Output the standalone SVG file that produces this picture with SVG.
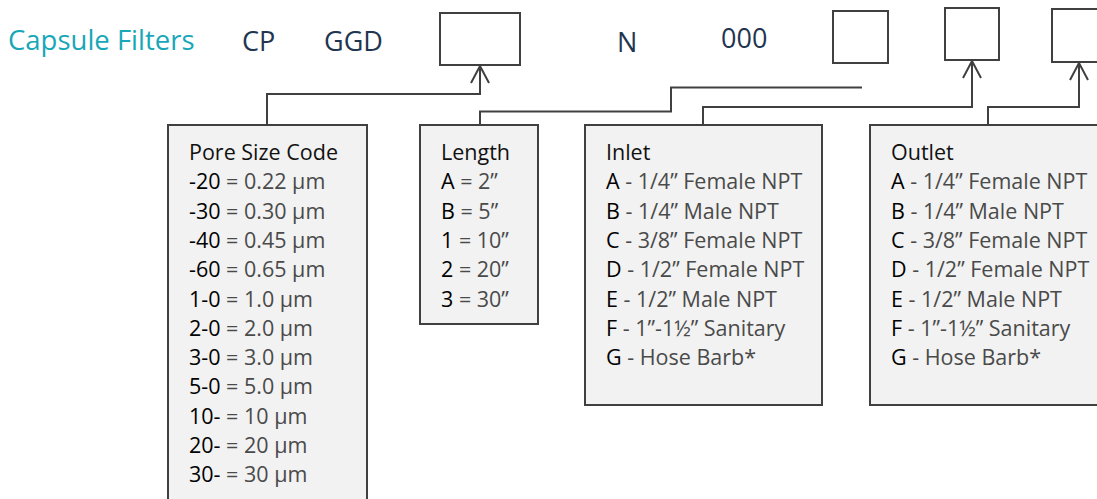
<svg xmlns="http://www.w3.org/2000/svg" width="1097" height="499" viewBox="0 0 1097 499">
<style>
.top{font-family:"Open Sans","Noto Sans",sans-serif;font-size:27px;fill:#1f3550}
.title{font-family:"Open Sans","Noto Sans",sans-serif;font-size:27.5px;fill:#17a7b8}
.slot{fill:#ffffff;stroke:#404040;stroke-width:2}
.box{fill:#f2f2f2;stroke:#404040;stroke-width:2}
.txt{font-family:"Open Sans","Noto Sans",sans-serif;font-size:21.5px;fill:#111111}
.k{fill:#000000;font-weight:500}
.v{fill:#4a4a4a}
.conn{fill:none;stroke:#404040;stroke-width:2}
</style>
<defs>
<marker id="arr" viewBox="-20 -10 22 20" markerWidth="22" markerHeight="20" refX="0" refY="0" orient="auto" markerUnits="userSpaceOnUse">
<path d="M-17,-9 L0,0 L-17,9" fill="none" stroke="#404040" stroke-width="2"/>
</marker>
</defs>
<g id="header">
<text class="title" x="8" y="50">Capsule Filters</text>
<text class="top" x="242" y="51">CP</text>
<text class="top" x="324" y="51">GGD</text>
<text class="top" x="617" y="52">N</text>
<text class="top" x="721" y="48">000</text>
</g>
<g id="slot-pore"><rect class="slot" x="440" y="13" width="80" height="52"/></g>
<g id="slot-length"><rect class="slot" x="833" y="11" width="55" height="52"/></g>
<g id="slot-inlet"><rect class="slot" x="945" y="8" width="54" height="52"/></g>
<g id="slot-outlet"><rect class="slot" x="1052" y="9" width="54" height="53"/></g>
<g id="connectors">
<path class="conn" d="M267,125 V94 H480 V66" marker-end="url(#arr)"/>
<path class="conn" d="M480,125 V111.5 H671 V87.5 H862"/>
<path class="conn" d="M703,124 V107 H972 V61" marker-end="url(#arr)"/>
<path class="conn" d="M988,125 V107 H1079 V63" marker-end="url(#arr)"/>
</g>
<g id="pore-size">
<rect class="box" x="168" y="125" width="199" height="390"/>
<text class="txt" x="189" y="160">Pore Size Code</text>
<text class="txt" x="189" y="189.3"><tspan class="k">-20</tspan><tspan class="v"> = 0.22 µm</tspan></text>
<text class="txt" x="189" y="218.6"><tspan class="k">-30</tspan><tspan class="v"> = 0.30 µm</tspan></text>
<text class="txt" x="189" y="247.9"><tspan class="k">-40</tspan><tspan class="v"> = 0.45 µm</tspan></text>
<text class="txt" x="189" y="277.2"><tspan class="k">-60</tspan><tspan class="v"> = 0.65 µm</tspan></text>
<text class="txt" x="189" y="306.5"><tspan class="k">1-0</tspan><tspan class="v"> = 1.0 µm</tspan></text>
<text class="txt" x="189" y="335.8"><tspan class="k">2-0</tspan><tspan class="v"> = 2.0 µm</tspan></text>
<text class="txt" x="189" y="365.1"><tspan class="k">3-0</tspan><tspan class="v"> = 3.0 µm</tspan></text>
<text class="txt" x="189" y="394.4"><tspan class="k">5-0</tspan><tspan class="v"> = 5.0 µm</tspan></text>
<text class="txt" x="189" y="423.7"><tspan class="k">10-</tspan><tspan class="v"> = 10 µm</tspan></text>
<text class="txt" x="189" y="453"><tspan class="k">20-</tspan><tspan class="v"> = 20 µm</tspan></text>
<text class="txt" x="189" y="482.3"><tspan class="k">30-</tspan><tspan class="v"> = 30 µm</tspan></text>
</g>
<g id="length">
<rect class="box" x="420" y="125" width="118" height="199"/>
<text class="txt" x="441" y="160">Length</text>
<text class="txt" x="441" y="189.3"><tspan class="k">A</tspan><tspan class="v"> = 2”</tspan></text>
<text class="txt" x="441" y="218.6"><tspan class="k">B</tspan><tspan class="v"> = 5”</tspan></text>
<text class="txt" x="441" y="247.9"><tspan class="k">1</tspan><tspan class="v"> = 10”</tspan></text>
<text class="txt" x="441" y="277.2"><tspan class="k">2</tspan><tspan class="v"> = 20”</tspan></text>
<text class="txt" x="441" y="306.5"><tspan class="k">3</tspan><tspan class="v"> = 30”</tspan></text>
</g>
<g id="inlet">
<rect class="box" x="585" y="125" width="237" height="280"/>
<text class="txt" x="606" y="160">Inlet</text>
<text class="txt" x="606" y="189.3"><tspan class="k">A</tspan><tspan class="v"> - 1/4” Female NPT</tspan></text>
<text class="txt" x="606" y="218.6"><tspan class="k">B</tspan><tspan class="v"> - 1/4” Male NPT</tspan></text>
<text class="txt" x="606" y="247.9"><tspan class="k">C</tspan><tspan class="v"> - 3/8” Female NPT</tspan></text>
<text class="txt" x="606" y="277.2"><tspan class="k">D</tspan><tspan class="v"> - 1/2” Female NPT</tspan></text>
<text class="txt" x="606" y="306.5"><tspan class="k">E</tspan><tspan class="v"> - 1/2” Male NPT</tspan></text>
<text class="txt" x="606" y="335.8"><tspan class="k">F</tspan><tspan class="v"> - 1”-1½” Sanitary</tspan></text>
<text class="txt" x="606" y="365.1"><tspan class="k">G</tspan><tspan class="v"> - Hose Barb*</tspan></text>
</g>
<g id="outlet">
<rect class="box" x="870" y="125" width="240" height="280"/>
<text class="txt" x="891" y="160">Outlet</text>
<text class="txt" x="891" y="189.3"><tspan class="k">A</tspan><tspan class="v"> - 1/4” Female NPT</tspan></text>
<text class="txt" x="891" y="218.6"><tspan class="k">B</tspan><tspan class="v"> - 1/4” Male NPT</tspan></text>
<text class="txt" x="891" y="247.9"><tspan class="k">C</tspan><tspan class="v"> - 3/8” Female NPT</tspan></text>
<text class="txt" x="891" y="277.2"><tspan class="k">D</tspan><tspan class="v"> - 1/2” Female NPT</tspan></text>
<text class="txt" x="891" y="306.5"><tspan class="k">E</tspan><tspan class="v"> - 1/2” Male NPT</tspan></text>
<text class="txt" x="891" y="335.8"><tspan class="k">F</tspan><tspan class="v"> - 1”-1½” Sanitary</tspan></text>
<text class="txt" x="891" y="365.1"><tspan class="k">G</tspan><tspan class="v"> - Hose Barb*</tspan></text>
</g>
</svg>
